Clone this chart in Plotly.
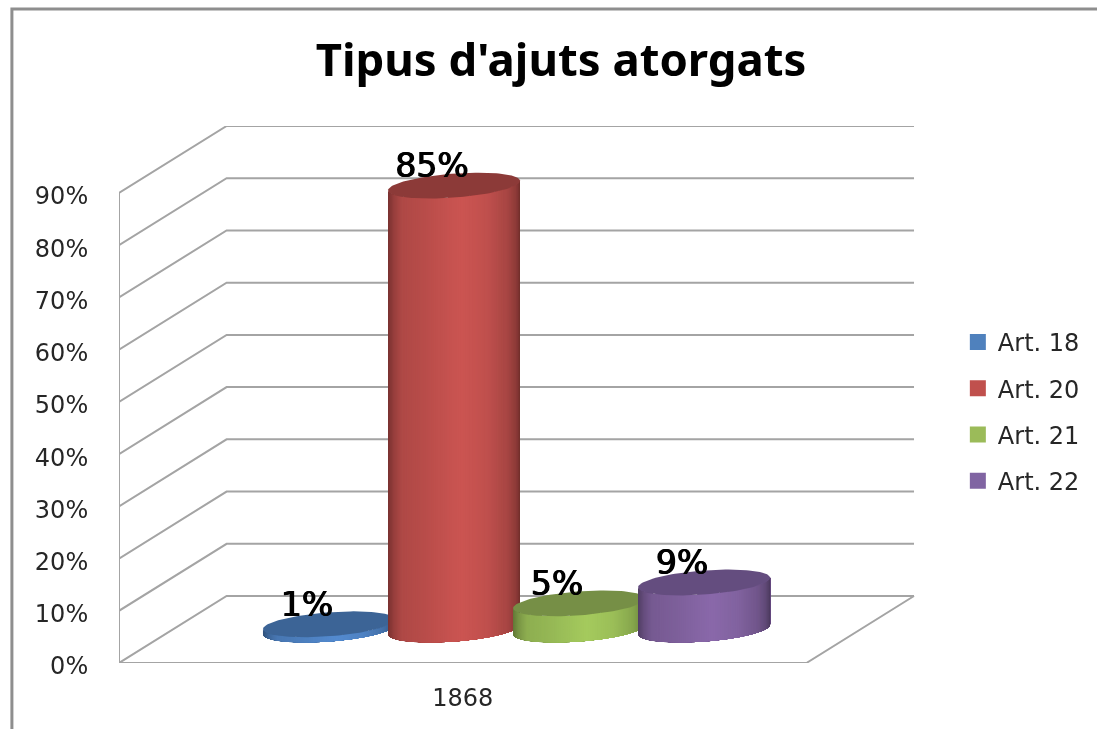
import numpy as np
import plotly.graph_objects as go

TITLE = "Tipus d'ajuts atorgats"
CATEGORY = "1868"
SERIES = ["Art. 18", "Art. 20", "Art. 21", "Art. 22"]
VALUES = [1, 85, 5, 9]
Y_TICKS = [0, 10, 20, 30, 40, 50, 60, 70, 80, 90]

LEGEND_COL = ["#4F81BD", "#C0504D", "#9BBB59", "#8064A2"]
LIGHT_COL = [(84, 139, 208), (204, 85, 82), (165, 203, 94), (138, 105, 170)]
CAP_COL = ["#3C6496", "#8C3A38", "#768F46", "#644D7F"]
GRID = "#a4a4a4"
TEXT = "#262626"
FONT = "DejaVu Sans"

# layout in pixels
W, H = 1097, 729
L, RIGHT, TOP, BOTTOM = 119, 920, 126, 663
CAT_PX = 690.0
PCT_PX = 470.0 / 90
DEPTH_DX, DEPTH_DY = 108 / CAT_PX, 67 / PCT_PX
SPACING = 125.5 / CAT_PX
ELL_R, ELL_A, ELL_B = 61.5, 0.4, 0.21
LABEL_DX, LABEL_DY = -22 / CAT_PX, -17 / PCT_PX

STOPS_U = [-1, -0.92, -0.8, -0.5, 0.1, 0.5, 0.8, 0.93, 1]
STOPS_F = [0.6, 0.74, 0.86, 0.9, 1.0, 0.94, 0.82, 0.7, 0.56]
N = 90

fig = go.Figure()

# walls and floor
gx, gy = [], []
for v in Y_TICKS:
    gx += [-0.5, -0.5 + DEPTH_DX, 0.5 + DEPTH_DX, None]
    gy += [v, v + DEPTH_DY, v + DEPTH_DY, None]
gx += [-0.5, -0.5, None, -0.5, 0.5, 0.5 + DEPTH_DX]
gy += [Y_TICKS[-1], 0, None, 0, 0, DEPTH_DY]
fig.add_trace(go.Scatter(x=gx, y=gy, mode="lines", line=dict(color=GRID, width=2),
                         showlegend=False, hoverinfo="skip"))

t_r = np.arctan(ELL_A)
width_px = ELL_R * np.sqrt(1 + ELL_A ** 2)
phi = np.linspace(np.pi, 0, N + 1)
arc_x = width_px * np.cos(phi) / CAT_PX
arc_y = ELL_R * ELL_B * np.sin(t_r - phi) / PCT_PX
theta = np.linspace(0, 2 * np.pi, 121)
cap_x = ELL_R * (np.cos(theta) + ELL_A * np.sin(theta)) / CAT_PX
cap_y = ELL_R * ELL_B * np.sin(theta) / PCT_PX

for i, (name, value) in enumerate(zip(SERIES, VALUES)):
    cx = (i - 1.5) * SPACING + DEPTH_DX / 2
    cy = DEPTH_DY / 2
    for k in range(N):
        f = np.interp(np.cos(phi[k]), STOPS_U, STOPS_F)
        r, g, b = [int(c * f) for c in LIGHT_COL[i]]
        xs = np.concatenate([cx + arc_x[k:], cx + arc_x[k:][::-1]])
        ys = np.concatenate([cy + arc_y[k:], cy + value + arc_y[k:][::-1]])
        fig.add_trace(go.Scatter(x=xs, y=ys, mode="lines", fill="toself",
                                 fillcolor=f"rgb({r},{g},{b})", line=dict(width=0),
                                 showlegend=False, hoverinfo="skip"))
    fig.add_trace(go.Scatter(x=cx + cap_x, y=cy + value + cap_y, mode="lines", fill="toself",
                             fillcolor=CAP_COL[i], line=dict(width=0),
                             showlegend=False, hoverinfo="skip"))

# data labels on top of everything
for i, (name, value) in enumerate(zip(SERIES, VALUES)):
    cx = (i - 1.5) * SPACING + DEPTH_DX / 2
    fig.add_trace(go.Scatter(x=[cx + LABEL_DX], y=[DEPTH_DY / 2 + value - LABEL_DY],
                             mode="text", text=[f"{value}%"], textposition="middle center",
                             textfont=dict(family=FONT, size=33, color="black",
                                           shadow="0.6px 0 0 black, -0.6px 0 0 black"),
                             showlegend=False, hoverinfo="skip", cliponaxis=False))

# legend entries
for i, name in enumerate(SERIES):
    fig.add_trace(go.Scatter(x=[None], y=[None], mode="markers", name=name, legendgroup=name,
                             marker=dict(symbol="square", size=16, color=LEGEND_COL[i])))

fig.update_layout(
    width=W, height=H,
    margin=dict(l=L, r=W - RIGHT, t=TOP, b=H - BOTTOM, pad=0),
    paper_bgcolor="white", plot_bgcolor="white",
    title=dict(text=f"<b>{TITLE}</b>", x=561 / W, y=1 - 60 / H, xref="container", yref="container",
               xanchor="center", yanchor="middle",
               font=dict(family="Noto Sans", size=45.5, color="black")),
    xaxis=dict(range=[-0.5, -0.5 + (RIGHT - L) / CAT_PX], tickvals=[0], ticktext=[CATEGORY],
               showgrid=False, zeroline=False, showline=False, ticks="outside", ticklen=13,
               tickcolor="rgba(0,0,0,0)", tickfont=dict(family=FONT, size=24, color=TEXT)),
    yaxis=dict(range=[0, (BOTTOM - TOP) / PCT_PX], tickvals=Y_TICKS, ticktext=[f"{v}%" for v in Y_TICKS],
               showgrid=False, zeroline=False, showline=False, ticks="outside", ticklen=25,
               ticklabelshift=3,
               tickcolor="rgba(0,0,0,0)", tickfont=dict(family=FONT, size=24, color=TEXT)),
    legend=dict(x=(961 - L) / (RIGHT - L), y=(BOTTOM - 320) / (BOTTOM - TOP), xanchor="left", yanchor="top",
                font=dict(family=FONT, size=24, color=TEXT), tracegroupgap=12, bgcolor="rgba(0,0,0,0)",
                itemsizing="trace"),
    shapes=[dict(type="rect", xref="paper", yref="paper", layer="below",
                 x0=(11.5 - L) / (RIGHT - L), x1=1.3,
                 y0=-0.2, y1=(BOTTOM - 9) / (BOTTOM - TOP),
                 line=dict(color="#8e8e8e", width=3), fillcolor="white")],
    showlegend=True,
)

fig.write_html("out.html", config=dict(displayModeBar=False),
               post_script="document.body.style.margin='0';document.body.style.overflow='hidden';"
                           "document.querySelector('.svg-container').style.filter='blur(0.6px)';")
